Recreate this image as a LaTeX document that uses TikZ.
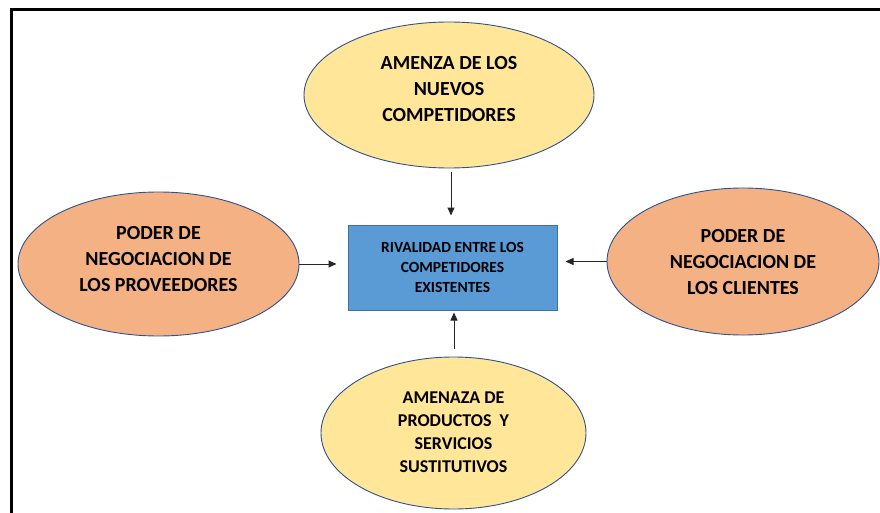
\documentclass[tikz,border=0pt]{standalone}
\usepackage{fontspec}
\setmainfont{Carlito}
\usetikzlibrary{shapes.geometric,arrows.meta}
\definecolor{yel}{HTML}{FFE699}
\definecolor{ora}{HTML}{F4B183}
\definecolor{boxf}{HTML}{5B9BD5}
\definecolor{boxb}{HTML}{41719C}
\definecolor{elb}{HTML}{2F528F}
\begin{document}
\begin{tikzpicture}[x=1pt,y=-1pt,
  ell/.style={ellipse, draw=elb, line width=0.9pt, inner sep=0pt},
  etext/.style={align=center, inner sep=0pt, font=\fontsize{20}{26}\selectfont\bfseries},
  rbox/.style={rectangle, draw=boxb, line width=1pt, fill=boxf, inner sep=0pt, align=center,
     minimum width=209, minimum height=85, font=\fontsize{15.5}{20}\selectfont\bfseries},
  arr/.style={-{Triangle[length=8pt,width=7pt]}, line width=1pt, draw=black!85}]
\useasboundingbox (0,0) rectangle (880,513);
\draw[line width=3.5pt] (11.7,513) -- (11.7,9.3) -- (880,9.3);

\node[ell, fill=yel, minimum width=290, minimum height=146] (nuevos) at (449,95) {};
\node[etext] (nuevost) at ([yshift=6pt]nuevos.center) {AMENZA DE LOS\\NUEVOS\\COMPETIDORES};
\node[ell, fill=ora, minimum width=281, minimum height=144] (prov) at (158.5,264) {};
\node[etext] (provt) at ([yshift=5pt]prov.center) {PODER DE\\NEGOCIACION DE\\LOS PROVEEDORES};
\node[ell, fill=ora, minimum width=272, minimum height=147] (cli) at (743,261.5) {};
\node[etext] (clit) at ([yshift=-1pt]cli.center) {PODER DE\\NEGOCIACION DE\\LOS CLIENTES};
\node[ell, fill=yel, minimum width=265, minimum height=152] (sust) at (453.5,433) {};
\node[etext, font=\fontsize{18}{23}\selectfont\bfseries] (sustt) at ([yshift=1pt]sust.center)
  {AMENAZA DE\\PRODUCTOS\ \ Y\\SERVICIOS\\SUSTITUTIVOS};
\node[rbox] (rv) at (452.5,267.5) {RIVALIDAD ENTRE LOS\\COMPETIDORES\\EXISTENTES};

\coordinate (a1) at (451,172);
\coordinate (a4) at (454,349);
\draw[arr, shorten >=9pt] (a1) -- (a1 |- rv.north);
\draw[arr, shorten >=11pt] (prov.east) -- (prov.east -| rv.west);
\draw[arr, shorten >=8pt] (cli.west) -- (cli.west -| rv.east);
\draw[arr, shorten >=2pt] (a4) -- (a4 |- rv.south);
\end{tikzpicture}
\end{document}
